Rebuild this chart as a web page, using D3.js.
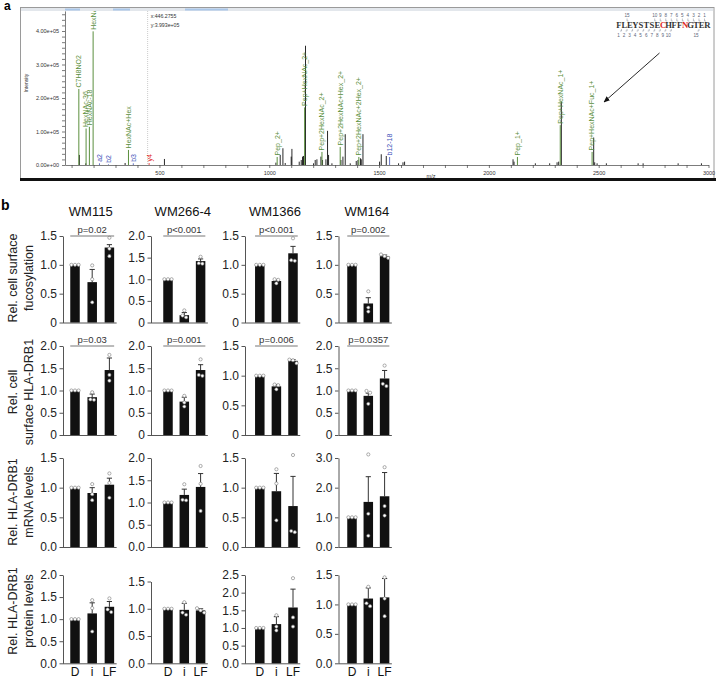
<!DOCTYPE html>
<html><head><meta charset="utf-8">
<script src="https://cdn.jsdelivr.net/npm/d3@7"></script>
<style>body{margin:0;background:#fff} svg{display:block;font-family:"Liberation Sans",Arial,sans-serif}</style>
</head><body><svg id="c" width="716" height="677"></svg>
<script>
// ---------------- Panel a data (MS spectrum) ----------------
const peakMz  = [135.5,164.7,343.7,522.8,1030.3,1049.9,1062.2,1072.7,1100,1103.2,1136.5,1145.6,1151.5,1156,1165.1,1201.6,1209.3,1217,1235.3,1242.6,1258.1,1265.4,1270,1285.4,1326.4,1335.5,1346,1368.8,1396.1,1403.9,1415.7,1418.9,1426.7,1502.3,1510,1532.8,1588.8,1608.9,1616.2,2110,2114.6,2211.6,2276.8,2310.5,2317.8,2330,2477.2,2481.8,2492.7,2535,2679.5,2702.3,2861.7,2967.9];
const peakInt = [0.30,0.05,0.06,0.18,0.07,0.30,0.50,0.06,0.25,0.48,0.10,0.15,0.25,0.27,3.56,0.05,0.15,0.17,0.25,0.15,0.17,1.02,0.30,0.05,0.15,0.25,0.92,0.05,0.12,0.15,0.20,0.17,0.92,0.10,0.32,0.27,0.05,0.08,0.10,0.17,0.10,0.05,0.05,0.08,0.10,1.89,0.82,0.08,0.05,0.05,0.05,0.05,0.05,0.05]; // x1e5
const annLabels = ["C7H8NO2","HexNAc-36","HexNAc-18","HexNAc","a2","b2","HexNAc+Hex","b3","y4","Pep_2+","Pep+HexNAc_2+","Pep+2HexNAc_2+","Pep+2HexNAc+Hex_2+","Pep+2HexNAc+2Hex_2+","b12-18","Pep_1+","Pep+HexNAc_1+","Pep+HexNAc+Fuc_1+"];
const annMz  = [133,166,181,198,227,268,359,381,453,1036,1161,1240,1323,1408,1548,2130,2325,2470];
const annInt = [2.27,1.09,1.14,3.99,0.05,0.02,0.45,0.05,0.06,0.24,1.72,0.39,0.54,0.24,0.24,0.24,1.19,0.39]; // x1e5
const annType = ["g","g","g","g","b","b","g","b","r","g","g","g","g","g","b","g","g","g"];
const cursorText = ["x:446.2755","y:3.993e+05"];
const cursorMz = 446.2755;
const sequence = "FLEYSTSECHFFNGTER";
const seqRed = [8,12];

// ---------------- Panel b data ----------------
const cellLines = ["WM115","WM266-4","WM1366","WM164"];
const conditions = ["D","i","LF"];
const rowLabels = [["Rel. cell surface","fucosylation"],["Rel. cell","surface HLA-DRB1"],["Rel. HLA-DRB1","mRNA levels"],["Rel. HLA-DRB1","protein levels"]];
const yMax = [[1.5,2.0,1.5,1.5],[2.0,2.0,1.5,2.0],[1.5,2.0,1.5,3.0],[2.0,1.5,2.5,1.5]];
const yStep = [[0.5,0.5,0.5,0.5],[0.5,0.5,0.5,0.5],[0.5,0.5,0.5,1.0],[0.5,0.5,0.5,0.5]];
const pValues = [["p=0.02","p<0.001","p<0.001","p=0.002"],["p=0.03","p=0.001","p=0.006","p=0.0357"],[null,null,null,null],[null,null,null,null]];
const means = [
 [[1,0.70,1.30],[1,0.17,1.42],[1,0.72,1.20],[1,0.33,1.15]],
 [[1,0.85,1.46],[1,0.75,1.46],[1,0.82,1.25],[1,0.88,1.27]],
 [[1,0.91,1.05],[1,1.17,1.35],[1,0.94,0.69],[1,1.52,1.71]],
 [[1,1.13,1.28],[1,0.98,0.97],[1,1.11,1.58],[1,1.10,1.12]]];
const errs = [
 [[0,0.22,0.05],[0,0.06,0.05],[0,0.02,0.12],[0,0.10,0.02]],
 [[0,0.07,0.27],[0,0.10,0.12],[0,0.03,0.02],[0,0.06,0.18]],
 [[0,0.09,0.11],[0,0.13,0.30],[0,0.30,0.50],[0,0.85,0.80]],
 [[0,0.24,0.12],[0,0.12,0.03],[0,0.21,0.52],[0,0.18,0.32]]];
const points = [
 [[[1,1,1],[0.99,0.75,0.35],[1.47,1.28,1.15]],[[1,1,1],[0.28,0.16,0.12],[1.52,1.37,1.36]],[[1,1,1],[0.75,0.74,0.68],[1.46,1.08,1.07]],[[1,1,1],[0.54,0.26,0.19],[1.18,1.15,1.12]]],
 [[[1,1,1],[0.96,0.80,0.79],[1.80,1.35,1.22]],[[1,1,1],[0.88,0.73,0.64],[1.70,1.35,1.33]],[[1,1,1],[0.85,0.84,0.77],[1.27,1.26,1.21]],[[1,1,1],[0.99,0.95,0.70],[1.56,1.15,1.10]]],
 [[[1,1,1],[1.06,0.89,0.79],[1.24,1.08,0.83]],[[1,1,1],[1.41,1.06,1.05],[1.82,1.42,0.81]],[[1,1,1],[1.31,1.07,0.45],[1.55,0.27,0.25]],[[1,1,1],[3.12,1.12,0.38],[2.69,1.38,1.06]]],
 [[[1,1,1],[1.43,1.25,0.72],[1.47,1.22,1.16]],[[1,1,1],[1.12,0.93,0.89],[1.01,0.97,0.93]],[[1,1,1],[1.36,1.04,0.93],[2.41,1.30,1.04]],[[1,1,1],[1.30,1.02,0.97],[1.46,1.10,0.80]]]];

// ================= drawing =================
const svg = d3.select("#c");
const colors = {g:"#5b8f3e", b:"#3b4fb8", r:"#e0261f"};

// ---- panel a ----
const A = svg.append("g");
A.append("rect").attr("x",20.5).attr("y",7.5).attr("width",693.5).attr("height",171).attr("fill","none").attr("stroke","#9a9a9a");
A.append("rect").attr("x",21).attr("y",8).attr("width",692).attr("height",3).attr("fill","#e3e7ec");
[[65,80],[113,130],[185,228]].forEach(s=>A.append("rect").attr("x",s[0]).attr("y",8.5).attr("width",s[1]-s[0]).attr("height",2).attr("fill","#a9c6e8"));
A.append("rect").attr("x",20).attr("y",178).attr("width",696).attr("height",3).attr("fill","#111");

const xs = d3.scaleLinear().domain([70,3000]).range([65,708.5]);
const ys = d3.scaleLinear().domain([0,4.6]).range([165,10.9]);

const xa = d3.axisBottom(xs).tickValues(d3.range(100,3001,100)).tickSize(3).tickSizeOuter(0).tickPadding(3)
  .tickFormat(d=> d%500===0 ? d : "");
const gx = A.append("g").attr("transform","translate(0,165)").call(xa);
gx.selectAll("text").attr("font-size",5.5).attr("fill","#333");
gx.selectAll("line,path").attr("stroke","#444").attr("stroke-width",0.7);

const ya = d3.axisLeft(ys).tickValues(d3.range(0,4.55,1/6)).tickSize(3).tickSizeOuter(0).tickPadding(3)
  .tickFormat(d=> Math.abs(d-Math.round(d))<1e-6 ? (Math.round(d)===0?"0.00e+00":Math.round(d).toFixed(2)+"e+05") : "");
const gy = A.append("g").attr("transform","translate(65,0)").call(ya);
gy.selectAll("text").attr("font-size",5.5).attr("fill","#333");
gy.selectAll("line,path").attr("stroke","#444").attr("stroke-width",0.7);

A.append("text").attr("transform","translate(28,83) rotate(-90)").attr("text-anchor","middle").attr("font-size",5).attr("fill","#333").text("Intensity");
A.append("text").attr("x",431).attr("y",178).attr("text-anchor","middle").attr("font-size",5.5).attr("fill","#333").text("m/z");

// cursor
A.append("line").attr("x1",xs(cursorMz)).attr("x2",xs(cursorMz)).attr("y1",11).attr("y2",165).attr("stroke","#aaa").attr("stroke-width",0.6).attr("stroke-dasharray","1,1");
cursorText.forEach((t,i)=>A.append("text").attr("x",xs(cursorMz)+3).attr("y",18+i*8.5).attr("font-size",5.2).attr("fill","#333").text(t));

// peaks
A.append("g").selectAll("line").data(peakMz).join("line")
  .attr("x1",d=>xs(d)).attr("x2",d=>xs(d)).attr("y1",ys(0)).attr("y2",(d,i)=>ys(peakInt[i]))
  .attr("stroke","#111").attr("stroke-width",0.9);

// annotations
A.append("clipPath").attr("id","pa").append("rect").attr("x",65).attr("y",11).attr("width",650).attr("height",160);
const ann = A.append("g").attr("clip-path","url(#pa)");
annLabels.forEach((lab,i)=>{
  const x = xs(annMz[i]), yt = ys(annInt[i]), col = colors[annType[i]];
  ann.append("line").attr("x1",x).attr("x2",x).attr("y1",ys(0)).attr("y2",yt).attr("stroke",col).attr("stroke-width",annType[i]==="g"?1:0.8);
  ann.append("text").attr("transform",`translate(${x+2.4},${yt-1.5}) rotate(-90)`)
    .attr("font-size",7).attr("fill",col).text(lab);
});

// sequence
const sx = d3.scaleBand().domain(d3.range(sequence.length)).range([616,710]);
const seqG = A.append("g");
sequence.split("").forEach((ch,i)=>{
  seqG.append("text").attr("x",sx(i)+sx.bandwidth()/2).attr("y",28).attr("text-anchor","middle")
    .attr("font-family","'Liberation Serif','DejaVu Serif',serif").attr("font-weight","bold").attr("font-size",8.6)
    .attr("fill",seqRed.includes(i)?"#e0261f":"#333").text(ch);
});
const topNums = [15,10,9,8,7,6,5,4,3,2,1];
topNums.forEach(k=>{
  const bx = 616 + (sequence.length-k)*sx.step();
  seqG.append("text").attr("x",bx).attr("y",17).attr("text-anchor","middle").attr("font-size",4.6).attr("fill","#5a6478").text(k);
  seqG.append("path").attr("d",`M${bx},18.5 v2.5 h1.5`).attr("fill","none").attr("stroke","#5a6478").attr("stroke-width",0.4);
});
const botNums = [1,2,3,4,5,6,7,8,9,10,15];
botNums.forEach(k=>{
  const bx = 616 + k*sx.step();
  seqG.append("text").attr("x",bx-3).attr("y",37).attr("text-anchor","middle").attr("font-size",4.6).attr("fill","#5a6478").text(k);
  seqG.append("path").attr("d",`M${bx-1.5},31 h1.5 v-2`).attr("fill","none").attr("stroke","#5a6478").attr("stroke-width",0.4);
});

// arrow
const defs = svg.append("defs");
defs.append("marker").attr("id","ah").attr("viewBox","0 0 10 10").attr("refX",9).attr("refY",5)
  .attr("markerWidth",7).attr("markerHeight",7).attr("orient","auto")
  .append("path").attr("d","M0,1 L10,5 L0,9 Z").attr("fill","#111");
A.append("line").attr("x1",659.5).attr("y1",53).attr("x2",604).attr("y2",102).attr("stroke","#111").attr("stroke-width",0.9).attr("marker-end","url(#ah)");

svg.append("text").attr("x",4).attr("y",10).attr("font-size",12).attr("font-weight","bold").text("a");
svg.append("text").attr("x",1).attr("y",210).attr("font-size",14).attr("font-weight","bold").text("b");

// ---- panel b ----
const colAxisX = [63,151,245,338.5], colFirst = [75,168,259.8,352], colStep = [17.2,16.3,16.6,16.3];
const rowTop = [236,346,458,575], rowBottom = [322.5,435,547,663.3];
const rowLabelY = [278,392,502,611];
const bw = 9.5;
const B = svg.append("g");

function jitter(vals, y){
  const py = vals.map(v=>y(v));
  const idx = d3.range(vals.length).sort((a,b)=>py[a]-py[b]);
  const groups=[]; let cur=[idx[0]];
  for(let k=1;k<idx.length;k++){
    if(py[idx[k]]-py[cur[cur.length-1]]<3.2) cur.push(idx[k]); else {groups.push(cur);cur=[idx[k]];}
  }
  groups.push(cur);
  const off=new Array(vals.length).fill(0);
  groups.forEach(g=>g.forEach((i,j)=>off[i]=(j-(g.length-1)/2)*3.6));
  return off;
}

cellLines.forEach((cl,c)=>{
  const x = d3.scalePoint().domain(conditions).range([colFirst[c], colFirst[c]+2*colStep[c]]);
  B.append("text").attr("x",x("i")-1.5).attr("y",216).attr("text-anchor","middle").attr("font-size",13).attr("fill","#111").text(cl);
  rowLabels.forEach((rl,r)=>{
    const top = rowTop[r] + ((r===3 && c===1) ? 6.5 : 0);
    const bottom = rowBottom[r];
    const y = d3.scaleLinear().domain([0,yMax[r][c]]).range([bottom,top]);
    const g = B.append("g");
    const fmt = v => (r<2 && v===0) ? "0" : d3.format(".1f")(v);
    const ax = d3.axisLeft(y).tickValues(d3.range(0,yMax[r][c]+1e-9,yStep[r][c])).tickSize(3.5).tickSizeOuter(0).tickPadding(2.5).tickFormat(fmt);
    const ga = g.append("g").attr("transform",`translate(${colAxisX[c]},0)`).call(ax);
    ga.selectAll("text").attr("font-size",12).attr("fill","#222").attr("font-family","'Liberation Sans',Arial,sans-serif");
    ga.selectAll("line,path").attr("stroke","#555").attr("stroke-width",1);
    g.append("line").attr("x1",colAxisX[c]).attr("x2",x("LF")+bw/2+2.5).attr("y1",bottom+0.5).attr("y2",bottom+0.5).attr("stroke","#555").attr("stroke-width",1);
    // error bars
    conditions.forEach((cd,k)=>{
      const m = means[r][c][k], e = errs[r][c][k];
      if(e>0){
        g.append("line").attr("x1",x(cd)).attr("x2",x(cd)).attr("y1",y(m)).attr("y2",y(m+e)).attr("stroke","#333").attr("stroke-width",1);
        g.append("line").attr("x1",x(cd)-2.6).attr("x2",x(cd)+2.6).attr("y1",y(m+e)).attr("y2",y(m+e)).attr("stroke","#333").attr("stroke-width",1);
      }
    });
    // bars
    g.selectAll("rect.bar").data(conditions).join("rect").attr("class","bar")
      .attr("x",d=>x(d)-bw/2).attr("width",bw)
      .attr("y",(d,k)=>y(means[r][c][k])).attr("height",(d,k)=>bottom-y(means[r][c][k]))
      .attr("fill","#111");
    // points
    conditions.forEach((cd,k)=>{
      const vals = points[r][c][k];
      const off = jitter(vals,y);
      vals.forEach((v,j)=>{
        g.append("circle").attr("cx",x(cd)+off[j]).attr("cy",y(v)).attr("r",1.6)
          .attr("fill","#fff").attr("stroke","#777").attr("stroke-width",0.6);
      });
    });
    // p values
    if(pValues[r][c]){
      const x1 = x("D")-bw/2, x2 = x("LF")+bw/2;
      g.append("line").attr("x1",x1).attr("x2",x2).attr("y1",top).attr("y2",top).attr("stroke","#777").attr("stroke-width",1);
      g.append("text").attr("x",(x1+x2)/2).attr("y",top-3.5).attr("text-anchor","middle").attr("font-size",9.5).attr("fill","#333").text(pValues[r][c]);
    }
    if(r===3){
      conditions.forEach(cd=>B.append("text").attr("x",x(cd)).attr("y",675.5).attr("text-anchor","middle").attr("font-size",12).attr("fill","#111").text(cd));
    }
  });
});

rowLabels.forEach((rl,r)=>{
  rl.forEach((t,j)=>{
    B.append("text").attr("transform",`translate(${j===0?13:29},${rowLabelY[r]}) rotate(-90)`)
      .attr("text-anchor","middle").attr("dy","0.35em").attr("font-size",12.5).attr("fill","#222").text(t);
  });
});
</script></body></html>
